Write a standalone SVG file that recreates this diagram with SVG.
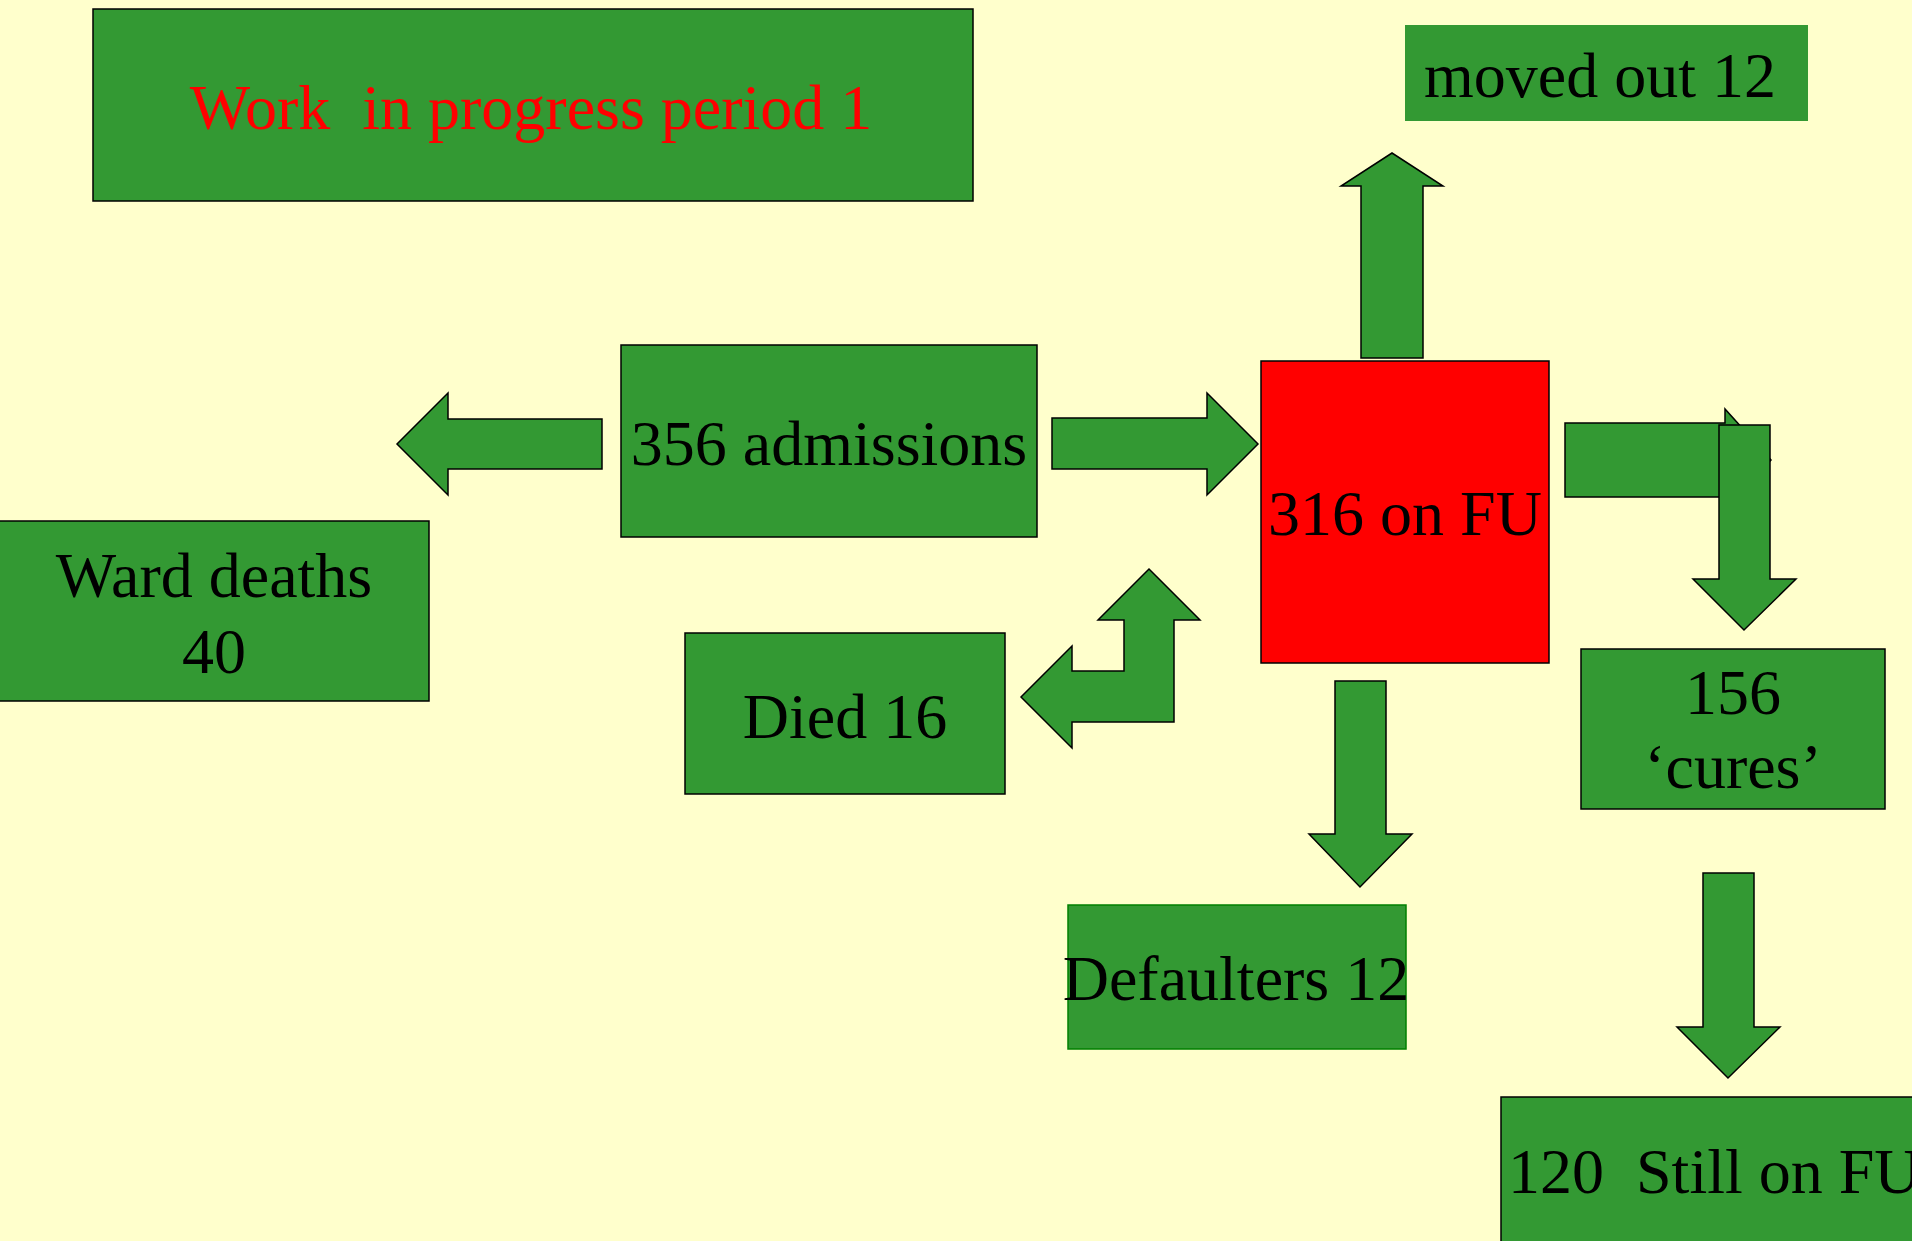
<svg xmlns="http://www.w3.org/2000/svg" width="1912" height="1241" viewBox="0 0 1912 1241">
<style>
.box{fill:#339933;stroke:#000;stroke-width:1.5}
.arr{fill:#339933;stroke:#000;stroke-width:1.5;stroke-linejoin:miter}
.t{font-family:"Liberation Serif","Times New Roman",serif;font-size:64px;fill:#000;text-anchor:middle}
</style>
<rect x="0" y="0" width="1912" height="1241" fill="#FFFFCC"/>
<g id="connectors">
<polygon class="arr" points="602,419 448,419 448,393 397,444 448,495 448,469 602,469"/>
<polygon class="arr" points="1052,418 1207,418 1207,393 1258,444 1207,495 1207,469 1052,469"/>
<polygon class="arr" points="1361,358 1361,186 1341,186 1392,153 1443,186 1423,186 1423,358"/>
<polygon class="arr" points="1335,681 1386,681 1386,834 1412,834 1360,887 1309,834 1335,834"/>
<polygon class="arr" points="1703,873 1754,873 1754,1027 1780,1027 1728,1078 1677,1027 1703,1027"/>
<polygon class="arr" points="1149,569 1200,620 1174,620 1174,722 1072,722 1072,748 1021,697 1072,646 1072,671 1124,671 1124,620 1098,620"/>
<polygon class="arr" points="1565,423 1725,423 1725,409 1771,460 1725,511 1725,497 1565,497"/>
<polygon class="arr" points="1719,425 1770,425 1770,579 1796,579 1744,630 1693,579 1719,579"/>
</g>
<g id="title">
<rect class="box" x="93" y="9" width="880" height="192"/>
<text class="t" x="531" y="129" fill="#FF0000" style="fill:#FF0000" xml:space="preserve">Work  in progress period 1</text>
</g>
<g id="moved-out">
<rect x="1405" y="25" width="403" height="96" fill="#339933"/>
<text class="t" x="1600" y="97">moved out 12</text>
</g>
<g id="admissions">
<rect class="box" x="621" y="345" width="416" height="192"/>
<text class="t" x="829" y="465">356 admissions</text>
</g>
<g id="on-fu">
<rect x="1261" y="361" width="288" height="302" fill="#FF0000" stroke="#000" stroke-width="1.5"/>
<text class="t" x="1405" y="535">316 on FU</text>
</g>
<g id="ward-deaths">
<rect class="box" x="-2" y="521" width="431" height="180"/>
<text class="t" x="214" y="597">Ward deaths</text>
<text class="t" x="214" y="673">40</text>
</g>
<g id="died">
<rect class="box" x="685" y="633" width="320" height="161"/>
<text class="t" x="845" y="738">Died 16</text>
</g>
<g id="cures">
<rect class="box" x="1581" y="649" width="304" height="160"/>
<text class="t" x="1733" y="714">156</text>
<text class="t" x="1733" y="788">‘cures’</text>
</g>
<g id="defaulters">
<rect x="1068" y="905" width="338" height="144" fill="#339933" stroke="#008000" stroke-width="1.5"/>
<text class="t" x="1236" y="1000">Defaulters 12</text>
</g>
<g id="still-on-fu">
<rect class="box" x="1501" y="1097" width="420" height="150"/>
<text class="t" x="1508" y="1193" style="text-anchor:start" xml:space="preserve">120  Still on FU</text>
</g>
</svg>
